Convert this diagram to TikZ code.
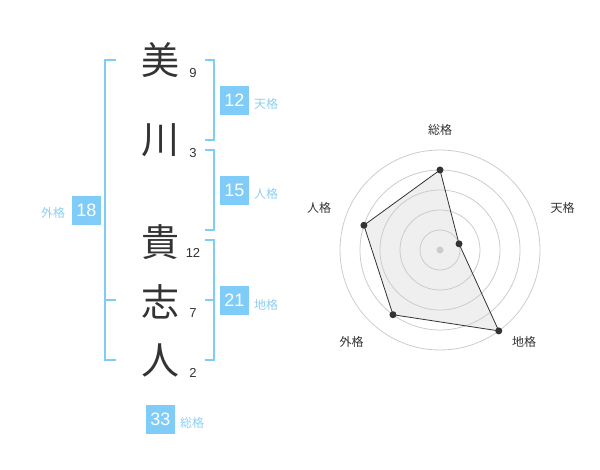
\documentclass[tikz,border=0pt]{standalone}
\usepackage{fontspec}
\setmainfont{Liberation Sans}
\newfontfamily\cjk{Noto Sans CJK JP}
\definecolor{kanji}{HTML}{333333}
\definecolor{boxblue}{HTML}{80CCF8}
\definecolor{lblblue}{HTML}{8CCFF2}
\definecolor{ringgrey}{HTML}{CCCCCC}
\definecolor{polyfill}{HTML}{EFEFEF}
\begin{document}
\begin{tikzpicture}[x=1pt,y=-1pt,
  kj/.style={text=kanji, font=\cjk\fontsize{38}{38}\selectfont, inner sep=0pt},
  num/.style={text=kanji, font=\fontsize{13}{13}\selectfont, inner sep=0pt},
  valbox/.style={fill=boxblue, text=white, minimum size=29pt, inner sep=0pt, font=\fontsize{18}{18}\selectfont},
  lbl/.style={text=lblblue, font=\cjk\fontsize{12}{12}\selectfont, inner sep=0pt},
  bracket/.style={draw=boxblue, line width=2pt},
  ring/.style={draw=ringgrey, line width=0.8pt},
  rlbl/.style={text=kanji, font=\cjk\fontsize{12}{12}\selectfont, inner sep=0pt},
  dot/.style={circle, fill=kanji, inner sep=0pt, minimum size=7pt}
]
\useasboundingbox (0,0) rectangle (600,470);

% name characters
\node[kj] (k1) at (160,60) {美};
\node[kj] (k2) at (160,140) {川};
\node[kj] (k3) at (160,242) {貴};
\node[kj] (k4) at (160,302) {志};
\node[kj] (k5) at (160,360) {人};
\node[num] (n1) at (193,73) {9};
\node[num] (n2) at (193,153) {3};
\node[num] (n3) at (193,253) {12};
\node[num] (n4) at (193,313) {7};
\node[num] (n5) at (193,373) {2};

% brackets
\draw[bracket] (116,60) -- (105,60) -- (105,360) -- (116,360);
\draw[bracket] (105,300) -- (116,300);
\draw[bracket] (205,60) -- (214,60) -- (214,140) -- (205,140);
\draw[bracket] (205,150) -- (214,150) -- (214,230) -- (205,230);
\draw[bracket] (205,240) -- (214,240) -- (214,360) -- (205,360);
\draw[bracket] (205,300) -- (214,300);

% values
\node[valbox] (ten) at (234.5,100.5) {12};
\node[lbl] (tenl) at (266,104) {天格};
\node[valbox] (jin) at (234.5,190.5) {15};
\node[lbl] (jinl) at (266,194) {人格};
\node[valbox] (gai) at (86.5,210.5) {18};
\node[lbl] (gail) at (53,213) {外格};
\node[valbox] (chi) at (234.5,300.5) {21};
\node[lbl] (chil) at (266,305) {地格};
\node[valbox] (sou) at (160.5,419) {33};
\node[lbl] (soul) at (192,423) {総格};

% radar
\begin{scope}[shift={(440,250)}]
  \coordinate (c) at (0,0);
  \coordinate (p1) at (-90:80);
  \coordinate (p2) at (-18:20);
  \coordinate (p3) at (54:100);
  \coordinate (p4) at (126:80);
  \coordinate (p5) at (198:80);
  \fill[polyfill] (p1) -- (p2) -- (p3) -- (p4) -- (p5) -- cycle;
  \foreach \r in {20,40,60,80,100} \draw[ring] (c) circle[radius=\r];
  \draw[kanji, line width=0.8pt] (p1) -- (p2) -- (p3) -- (p4) -- (p5) -- cycle;
  \foreach \p in {p1,p2,p3,p4,p5} \node[dot] at (\p) {};
  \node[circle, fill=ringgrey, inner sep=0pt, minimum size=7pt] (cd) at (c) {};
  \node[rlbl] (l1) at (0,-120) {総格};
  \node[rlbl] (l2) at (122.7,-41.7) {天格};
  \node[rlbl] (l3) at (84,91.7) {地格};
  \node[rlbl] (l4) at (-88.3,91.7) {外格};
  \node[rlbl] (l5) at (-121,-41.7) {人格};
\end{scope}
\end{tikzpicture}
\end{document}
